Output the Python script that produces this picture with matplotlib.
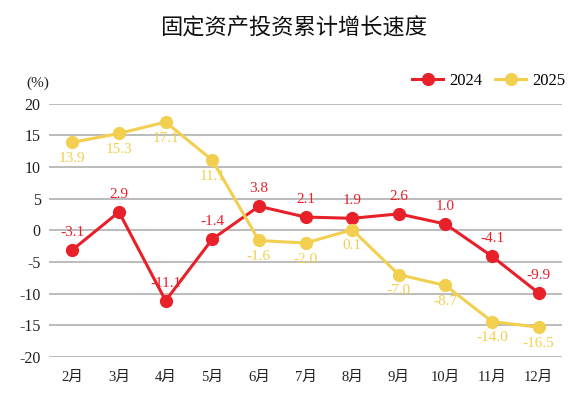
import numpy as np
import matplotlib.pyplot as plt
from matplotlib.lines import Line2D

months = ["2月", "3月", "4月", "5月", "6月", "7月", "8月", "9月", "10月", "11月", "12月"]
vals_2024 = [-3.1, 2.9, -11.1, -1.4, 3.8, 2.1, 1.9, 2.6, 1.0, -4.1, -9.9]
vals_2025 = [13.9, 15.3, 17.1, 11.1, -1.6, -2.0, 0.1, -7.0, -8.7, -14.4, -15.3]
labels_2024 = ["-3.1", "2.9", "-11.1", "-1.4", "3.8", "2.1", "1.9", "2.6", "1.0", "-4.1", "-9.9"]
labels_2025 = ["13.9", "15.3", "17.1", "11.1", "-1.6", "-2.0", "0.1", "-7.0", "-8.7", "-14.0", "-16.5"]
yticks = [-20, -15, -10, -5, 0, 5, 10, 15, 20]

RED = "#e8202a"
YELLOW = "#f2cf4f"
SERIF = ["Liberation Serif", "Noto Sans CJK SC"]

fig = plt.figure(figsize=(5.87, 3.97), dpi=100)
ax = fig.add_axes([49 / 587, 1 - 357 / 397, (562 - 49) / 587, (357 - 103.7) / 397])

x = np.arange(len(months))
ax.plot(x, vals_2024, color=RED, lw=2.2, marker="o", ms=8.5, zorder=3)
ax.plot(x, vals_2025, color=YELLOW, lw=2.2, marker="o", ms=8.5, zorder=3)

# value labels: 2024 above, 2025 below
for xi, v, s in zip(x, vals_2024, labels_2024):
    ax.annotate(s, (xi, v), xytext=(0, 8), textcoords="offset points",
                ha="center", va="bottom", color=RED, fontsize=11, family=SERIF)
for xi, v, s in zip(x, vals_2025, labels_2025):
    ax.annotate(s, (xi, v), xytext=(0, -7), textcoords="offset points",
                ha="center", va="top", color=YELLOW, fontsize=11, family=SERIF)

ax.set_xlim(-0.5, len(months) - 0.5)
ax.set_ylim(-20, 20)
ax.set_yticks(yticks)
ax.set_yticklabels([str(t) for t in yticks], family=SERIF, fontsize=11.5, color="#222222")
ax.set_xticks(x)
ax.set_xticklabels(months, family=SERIF, fontsize=10.5, color="#222222")
ax.tick_params(length=0, pad=6)
ax.tick_params(axis="x", pad=10)
ax.grid(axis="y", color="#b0b0b0", lw=1.2)
ax.set_axisbelow(True)
for sp in ax.spines.values():
    sp.set_visible(False)

fig.text(293.5 / 587, 1 - 28 / 397, "固定资产投资累计增长速度", ha="center", va="center",
         fontsize=16, weight="medium", family=["Noto Sans CJK SC", "DejaVu Sans"], color="#111111")
fig.text(38 / 587, 1 - 83 / 397, "(%)", ha="center", va="center",
         fontsize=11, family=SERIF, color="#222222")

handles = [Line2D([], [], color=RED, lw=2.2, marker="o", ms=8.5),
           Line2D([], [], color=YELLOW, lw=2.2, marker="o", ms=8.5)]
fig.legend(handles, ["2024", "2025"], loc="center right", bbox_to_anchor=(565 / 587, 1 - 81 / 397),
           ncol=2, frameon=False, prop={"family": SERIF, "size": 12},
           borderpad=0, borderaxespad=0,
           handlelength=1.85, handletextpad=0.35, columnspacing=0.8)

fig.savefig("out.png", dpi=100)
